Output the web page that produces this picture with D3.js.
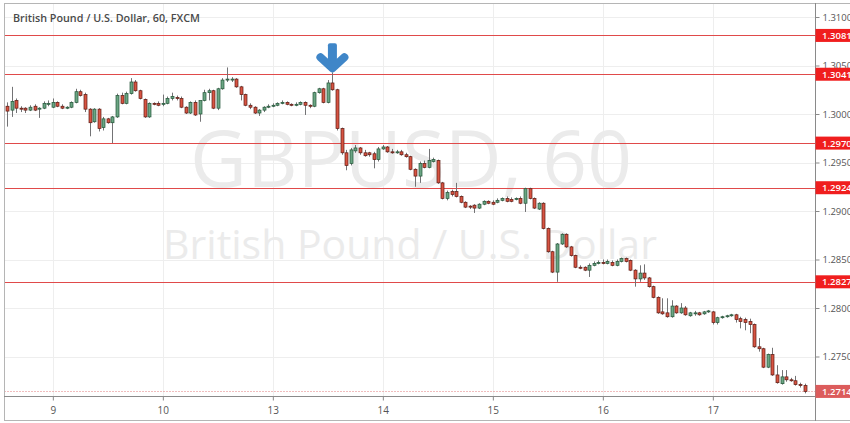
<!DOCTYPE html>
<html><head><meta charset="utf-8">
<script src="https://cdn.jsdelivr.net/npm/d3@7"></script>
<style>html,body{margin:0;padding:0;background:#fff;}svg{display:block;}</style>
</head><body>
<svg id="chart" width="850" height="423"></svg>
<script>
// ---- data (hourly candles, GBPUSD 60, FXCM) ----
const openP = [1.3008,1.3004,1.3014,1.3006,1.3006,1.3004,1.3008,1.3005,1.3006,1.3010,
1.3007,1.3012,1.3008,1.3006,1.3007,1.3012,1.3023,1.3020,1.3005,1.2992,
1.3005,1.2986,1.2995,1.2991,1.2997,1.3019,1.3011,1.3021,1.3033,1.3024,
1.3015,1.2997,1.3011,1.3011,1.3010,1.3011,1.3016,1.3017,1.3016,1.3007,
1.3001,1.3012,1.3000,1.3014,1.3022,1.3024,1.3006,1.3026,1.3035,1.3035,
1.3036,1.3028,1.3020,1.3009,1.3007,1.3001,1.3004,1.3007,1.3008,1.3009,
1.3011,1.3012,1.3010,1.3009,1.3010,1.3012,1.3009,1.3008,1.3022,1.3026,
1.3012,1.3032,1.3025,1.2985,1.2960,1.2949,1.2962,1.2965,1.2960,1.2960,
1.2959,1.2953,1.2964,1.2966,1.2961,1.2960,1.2961,1.2958,1.2956,1.2943,
1.2936,1.2949,1.2945,1.2951,1.2952,1.2929,1.2913,1.2920,1.2920,1.2915,
1.2909,1.2905,1.2906,1.2903,1.2907,1.2910,1.2909,1.2909,1.2911,1.2913,
1.2912,1.2912,1.2913,1.2908,1.2923,1.2913,1.2902,1.2908,1.2882,1.2858,
1.2837,1.2866,1.2876,1.2863,1.2854,1.2842,1.2842,1.2839,1.2844,1.2846,
1.2847,1.2846,1.2847,1.2844,1.2848,1.2851,1.2849,1.2839,1.2830,1.2836,
1.2831,1.2822,1.2811,1.2796,1.2795,1.2791,1.2802,1.2795,1.2800,1.2792,
1.2794,1.2795,1.2794,1.2796,1.2796,1.2785,1.2790,1.2791,1.2792,1.2793,
1.2789,1.2788,1.2786,1.2783,1.2760,1.2758,1.2739,1.2752,1.2731,1.2722,
1.2729,1.2726,1.2725,1.2721,1.2720];
const highP = [1.3012,1.3028,1.3016,1.3008,1.3007,1.3009,1.3010,1.3007,1.3013,1.3014,
1.3016,1.3013,1.3010,1.3008,1.3013,1.3026,1.3025,1.3022,1.3006,1.3006,
1.3006,1.2997,1.2996,1.2998,1.3021,1.3022,1.3023,1.3037,1.3035,1.3025,
1.3016,1.3012,1.3012,1.3013,1.3020,1.3018,1.3022,1.3019,1.3018,1.3008,
1.3013,1.3014,1.3008,1.3025,1.3026,1.3025,1.3027,1.3037,1.3048,1.3038,
1.3037,1.3029,1.3021,1.3011,1.3008,1.3005,1.3008,1.3010,1.3011,1.3012,
1.3014,1.3013,1.3011,1.3012,1.3013,1.3013,1.3010,1.3023,1.3027,1.3027,
1.3035,1.3043,1.3026,1.2986,1.2963,1.2965,1.2968,1.2966,1.2963,1.2961,
1.2961,1.2966,1.2968,1.2967,1.2964,1.2963,1.2963,1.2960,1.2957,1.2944,
1.2951,1.2952,1.2964,1.2955,1.2953,1.2930,1.2921,1.2922,1.2929,1.2916,
1.2910,1.2906,1.2907,1.2908,1.2911,1.2911,1.2911,1.2913,1.2914,1.2915,
1.2914,1.2914,1.2915,1.2924,1.2924,1.2914,1.2909,1.2909,1.2883,1.2859,
1.2867,1.2877,1.2877,1.2864,1.2855,1.2844,1.2843,1.2846,1.2848,1.2849,
1.2850,1.2850,1.2849,1.2850,1.2852,1.2852,1.2850,1.2840,1.2844,1.2845,
1.2832,1.2823,1.2812,1.2810,1.2810,1.2808,1.2803,1.2805,1.2802,1.2796,
1.2797,1.2796,1.2797,1.2798,1.2797,1.2791,1.2792,1.2793,1.2794,1.2794,
1.2791,1.2790,1.2789,1.2784,1.2769,1.2759,1.2753,1.2759,1.2741,1.2736,
1.2736,1.2728,1.2730,1.2723,1.2722];
const lowP = [1.2987,1.2997,1.3001,1.3002,1.3001,1.3003,1.3003,1.2996,1.3005,1.3008,
1.3006,1.3007,1.3005,1.3005,1.3006,1.3011,1.3018,1.3002,1.2977,1.2991,
1.2982,1.2983,1.2990,1.2970,1.2996,1.3010,1.3010,1.3020,1.3023,1.3015,
1.2996,1.2996,1.3009,1.3008,1.3008,1.3010,1.3014,1.3014,1.3006,1.3000,
1.3000,1.2998,1.2992,1.3013,1.3014,1.3005,1.3004,1.3025,1.3033,1.3033,
1.3027,1.3014,1.3008,1.3005,1.3000,1.2998,1.3002,1.3006,1.3007,1.3008,
1.3010,1.3009,1.3008,1.3008,1.3009,1.2999,1.3006,1.3007,1.3021,1.3011,
1.3011,1.3024,1.2983,1.2958,1.2942,1.2947,1.2960,1.2958,1.2956,1.2956,
1.2944,1.2951,1.2963,1.2960,1.2959,1.2959,1.2957,1.2955,1.2942,1.2925,
1.2929,1.2944,1.2944,1.2950,1.2928,1.2912,1.2911,1.2915,1.2914,1.2908,
1.2903,1.2902,1.2898,1.2902,1.2906,1.2907,1.2906,1.2908,1.2910,1.2909,
1.2909,1.2911,1.2907,1.2899,1.2912,1.2902,1.2901,1.2881,1.2857,1.2836,
1.2827,1.2865,1.2862,1.2853,1.2841,1.2840,1.2838,1.2832,1.2843,1.2845,
1.2845,1.2845,1.2843,1.2843,1.2847,1.2847,1.2838,1.2822,1.2827,1.2829,
1.2821,1.2810,1.2794,1.2793,1.2790,1.2790,1.2794,1.2794,1.2792,1.2791,
1.2792,1.2792,1.2793,1.2795,1.2783,1.2783,1.2789,1.2790,1.2791,1.2785,
1.2779,1.2777,1.2774,1.2759,1.2755,1.2738,1.2738,1.2730,1.2722,1.2721,
1.2724,1.2724,1.2720,1.2718,1.2712];
const closeP = [1.3003,1.3013,1.3006,1.3005,1.3004,1.3007,1.3004,1.3006,1.3011,1.3011,
1.3012,1.3008,1.3006,1.3007,1.3012,1.3023,1.3019,1.3005,1.2991,1.3005,
1.2985,1.2995,1.2991,1.2997,1.3019,1.3011,1.3021,1.3033,1.3024,1.3016,
1.2997,1.3011,1.3010,1.3009,1.3011,1.3016,1.3018,1.3016,1.3007,1.3001,
1.3012,1.2999,1.3014,1.3022,1.3024,1.3006,1.3026,1.3035,1.3036,1.3036,
1.3028,1.3020,1.3009,1.3007,1.3001,1.3004,1.3007,1.3008,1.3009,1.3011,
1.3012,1.3010,1.3009,1.3010,1.3012,1.3009,1.3008,1.3022,1.3026,1.3012,
1.3032,1.3025,1.2985,1.2960,1.2947,1.2963,1.2965,1.2960,1.2957,1.2958,
1.2953,1.2964,1.2966,1.2961,1.2960,1.2961,1.2958,1.2956,1.2943,1.2936,
1.2949,1.2945,1.2952,1.2953,1.2929,1.2913,1.2919,1.2917,1.2915,1.2909,
1.2904,1.2904,1.2903,1.2907,1.2910,1.2908,1.2907,1.2911,1.2913,1.2910,
1.2910,1.2913,1.2908,1.2923,1.2913,1.2903,1.2908,1.2882,1.2858,1.2837,
1.2866,1.2876,1.2863,1.2854,1.2842,1.2841,1.2839,1.2844,1.2846,1.2847,
1.2846,1.2848,1.2844,1.2848,1.2851,1.2848,1.2839,1.2830,1.2836,1.2831,
1.2822,1.2811,1.2795,1.2794,1.2791,1.2802,1.2795,1.2800,1.2793,1.2795,
1.2795,1.2793,1.2796,1.2797,1.2785,1.2790,1.2791,1.2792,1.2793,1.2788,
1.2786,1.2785,1.2783,1.2760,1.2758,1.2739,1.2752,1.2731,1.2723,1.2729,
1.2726,1.2725,1.2721,1.2720,1.2714];
const dayTickIndex = [10, 34, 58, 82, 106, 130, 154];
const dayTickLabels = ["9", "10", "13", "14", "15", "16", "17"];
const priceTicks = [1.3100, 1.3050, 1.3000, 1.2950, 1.2900, 1.2850, 1.2800, 1.2750];
const levelPrices = [1.3081, 1.3041, 1.2970, 1.2924, 1.2827];
const lastPrice = 1.2714;
const arrowIndex = 71;
const titleText = "British Pound / U.S. Dollar, 60, FXCM";
const watermarkSymbol = "GBPUSD, 60";
const watermarkName = "British Pound / U.S. Dollar";

// ---- layout ----
const W = 850, H = 423;
const plotL = 4.5, plotR = 815, plotT = 3.5, plotB = 396;
const svg = d3.select("#chart");
const N = closeP.length;
const x = d3.scaleLinear().domain([0, N - 1]).range([7, 804.5]);
const y = d3.scaleLinear().domain([1.27, 1.31]).range([405, 17]);
const FONT = "'Open Sans', 'Noto Sans', sans-serif";

svg.append("rect").attr("width", W).attr("height", H).attr("fill", "#fff");

// grid
const grid = svg.append("g");
grid.selectAll("line.h").data(priceTicks).join("line")
  .attr("x1", plotL).attr("x2", plotR)
  .attr("y1", d => Math.round(y(d)) + 0.5).attr("y2", d => Math.round(y(d)) + 0.5)
  .attr("stroke", "#eeeeee").attr("stroke-width", 1);
grid.selectAll("line.v").data(dayTickIndex).join("line")
  .attr("x1", d => Math.round(x(d)) + 0.5).attr("x2", d => Math.round(x(d)) + 0.5)
  .attr("y1", plotT).attr("y2", plotB)
  .attr("stroke", "#eeeeee").attr("stroke-width", 1);

// watermarks
function fitText(sel, targetW) {
  const fs = parseFloat(sel.attr("font-size"));
  const len = sel.node().getComputedTextLength();
  if (len > 0) sel.attr("font-size", fs * targetW / len);
}
const wm1 = svg.append("text").attr("x", 411).attr("y", 187)
  .attr("text-anchor", "middle").attr("font-family", FONT).attr("font-size", 82)
  .attr("fill", "#ebebeb").text(watermarkSymbol);
fitText(wm1, 442);
const wm2 = svg.append("text").attr("x", 410).attr("y", 259)
  .attr("text-anchor", "middle").attr("font-family", FONT).attr("font-size", 36)
  .attr("fill", "#ebebeb").text(watermarkName);
fitText(wm2, 494);

// level lines
svg.append("g").selectAll("line").data(levelPrices).join("line")
  .attr("x1", plotL).attr("x2", plotR)
  .attr("y1", d => Math.round(y(d)) + 0.5).attr("y2", d => Math.round(y(d)) + 0.5)
  .attr("stroke", "#e04a4a").attr("stroke-width", 1);

// current price dotted line
svg.append("line").attr("x1", plotL).attr("x2", plotR)
  .attr("y1", Math.round(y(lastPrice)) + 0.5).attr("y2", Math.round(y(lastPrice)) + 0.5)
  .attr("stroke", "#e07a7a").attr("stroke-width", 1).attr("stroke-dasharray", "1,2");

// candles
const idx = d3.range(N);
const cg = svg.append("g");
cg.selectAll("line").data(idx).join("line")
  .attr("x1", i => Math.round(x(i)) + 0.5).attr("x2", i => Math.round(x(i)) + 0.5)
  .attr("y1", i => y(highP[i])).attr("y2", i => y(lowP[i]))
  .attr("stroke", "#737375").attr("stroke-width", 1);
const bw = 3;
cg.selectAll("rect").data(idx).join("rect")
  .attr("x", i => Math.round(x(i)) + 0.5 - bw / 2)
  .attr("width", bw)
  .attr("y", i => y(Math.max(openP[i], closeP[i])))
  .attr("height", i => Math.max(1, Math.abs(y(openP[i]) - y(closeP[i]))))
  .attr("fill", i => closeP[i] >= openP[i] ? "#6ba583" : "#d75442")
  .attr("stroke", i => closeP[i] >= openP[i] ? "#225437" : "#5b1a13")
  .attr("stroke-width", 0.7);

// arrow annotation
const ax = x(arrowIndex), ay = y(highP[arrowIndex]) - 2;
const ag = svg.append("g").attr("fill", "#3f86c8").attr("stroke", "#3f86c8");
ag.append("rect").attr("x", ax - 4.5).attr("y", ay - 27).attr("width", 9).attr("height", 20)
  .attr("rx", 2).attr("stroke", "none");
ag.append("path")
  .attr("d", `M${ax - 12},${ay - 13} L${ax},${ay - 2} L${ax + 12},${ay - 13}`)
  .attr("fill", "none").attr("stroke-width", 8)
  .attr("stroke-linecap", "round").attr("stroke-linejoin", "round");

// frame lines
const fr = svg.append("g").attr("stroke", "#b5b5b5").attr("stroke-width", 1);
fr.append("line").attr("x1", 4.5).attr("x2", 4.5).attr("y1", 3).attr("y2", 421);
fr.append("line").attr("x1", 4).attr("x2", 850).attr("y1", 3.5).attr("y2", 3.5);
fr.append("line").attr("x1", 4).attr("x2", 850).attr("y1", 420.5).attr("y2", 420.5);

// axes
const yAxis = d3.axisRight(y).tickValues(priceTicks).tickSize(4).tickPadding(3)
  .tickFormat(d3.format(".4f"));
const gy = svg.append("g").attr("transform", `translate(${plotR + 0.5},0)`).call(yAxis);
gy.select(".domain").remove();
gy.selectAll(".tick line").attr("stroke", "#8a8a8a");
gy.selectAll(".tick text").attr("fill", "#555").attr("font-size", 9.5).attr("font-family", FONT);

const xAxis = d3.axisBottom(x).tickValues(dayTickIndex).tickSize(4).tickPadding(6)
  .tickFormat((d, i) => dayTickLabels[i]);
const gx = svg.append("g").attr("transform", `translate(0,${plotB + 0.5})`).call(xAxis);
gx.select(".domain").remove();
gx.selectAll(".tick line").attr("stroke", "#8a8a8a");
gx.selectAll(".tick text").attr("fill", "#555").attr("font-size", 10).attr("font-family", FONT);

svg.append("line").attr("x1", 4).attr("x2", plotR).attr("y1", plotB + 0.5).attr("y2", plotB + 0.5)
  .attr("stroke", "#8a8a8a");
svg.append("line").attr("x1", plotR + 0.5).attr("x2", plotR + 0.5).attr("y1", 3).attr("y2", 421)
  .attr("stroke", "#8a8a8a");

// price labels
const lab = svg.append("g");
const allLabels = levelPrices.map(p => ({p, bg: "#f01e1e"})).concat([{p: lastPrice, bg: "#dc5c5c"}]);
lab.selectAll("rect").data(allLabels).join("rect")
  .attr("x", plotR + 0.5).attr("width", W - plotR)
  .attr("y", d => y(d.p) - 6.5).attr("height", 13).attr("fill", d => d.bg);
lab.selectAll("text").data(allLabels).join("text")
  .attr("x", 822).attr("y", d => y(d.p) + 3.5)
  .attr("font-size", 9.5).attr("font-weight", 600).attr("font-family", FONT)
  .attr("fill", "#fff").text(d => d3.format(".4f")(d.p));

// title
const tt = svg.append("text").attr("x", 13).attr("y", 22)
  .attr("font-family", FONT).attr("font-weight", 600).attr("font-size", 11)
  .attr("fill", "#4a4a4a").text(titleText);
fitText(tt, 187);
</script>
</body></html>
